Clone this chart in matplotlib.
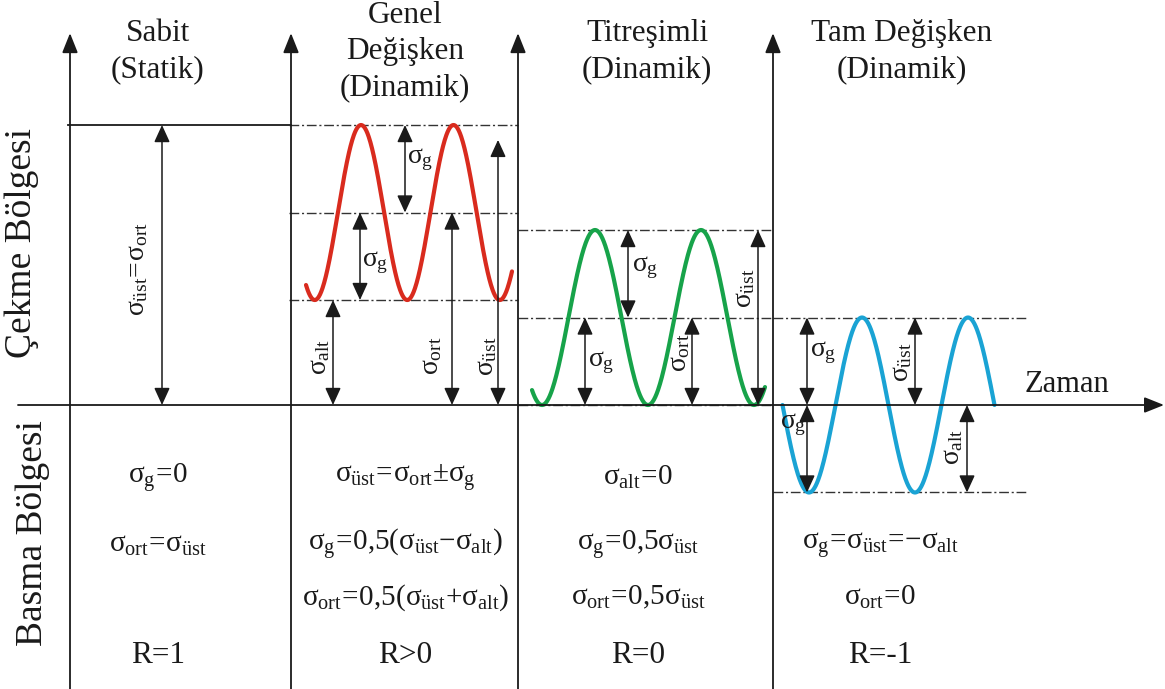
import numpy as np
import matplotlib.pyplot as plt

plt.rcParams['font.family'] = ['Liberation Serif', 'DejaVu Serif']
plt.rcParams['mathtext.fontset'] = 'custom'
plt.rcParams['mathtext.rm'] = 'Liberation Serif'
plt.rcParams['mathtext.it'] = 'Liberation Serif'
plt.rcParams['mathtext.bf'] = 'Liberation Serif:bold'

ink = '#1a1a1a'

# load cases: titles and where each panel starts on the time axis
titles = ['Sabit\n(Statik)', 'Genel\nDeğişken\n(Dinamik)',
          'Titreşimli\n(Dinamik)', 'Tam Değişken\n(Dinamik)']
panel_x = [70, 291, 518, 773]
title_x = [158, 405, 647, 902]

# stress levels of each case (upper / lower)
sabit_ust = 3.2
genel_ust, genel_alt = 3.2, 1.2
titr_ust, titr_alt = 2.0, 0.0
tam_ust, tam_alt = 1.0, -1.0

# wave timing: [first peak, period, start, end]
genel_time = [361, 92.5, 306, 512]
titr_time = [595, 106, 532, 765]
tam_time = [862, 106, 782.5, 994.5]

# relations written under each panel (one entry per row)
rows_y = [-0.83, -1.6, -2.2, -2.86]
col_x = [158, 405, 638, 880]
relations = [
    [r'$\sigma_{\mathrm{g}}\!=\!0$', r'$\sigma_{\mathrm{ort}}\!=\!\sigma_{\mathrm{üst}}$', '', 'R=1'],
    [r'$\sigma_{\mathrm{üst}}\!=\!\sigma_{\mathrm{ort}}{\pm}\sigma_{\mathrm{g}}$',
     r'$\sigma_{\mathrm{g}}\!=\!0{,}5(\sigma_{\mathrm{üst}}{-}\sigma_{\mathrm{alt}})$',
     r'$\sigma_{\mathrm{ort}}\!=\!0{,}5(\sigma_{\mathrm{üst}}{+}\sigma_{\mathrm{alt}})$', 'R>0'],
    [r'$\sigma_{\mathrm{alt}}\!=\!0$', r'$\sigma_{\mathrm{g}}\!=\!0{,}5\sigma_{\mathrm{üst}}$',
     r'$\sigma_{\mathrm{ort}}\!=\!0{,}5\sigma_{\mathrm{üst}}$', 'R=0'],
    ['', r'$\sigma_{\mathrm{g}}\!=\!\sigma_{\mathrm{üst}}\!=\!{-}\sigma_{\mathrm{alt}}$',
     r'$\sigma_{\mathrm{ort}}\!=\!0$', 'R=-1'],
]


def wave(ust, alt, timing):
    t_peak, period, t0, t1 = timing
    t = np.linspace(t0, t1, 500)
    mid = (ust + alt) / 2
    amp = (ust - alt) / 2
    return t, mid + amp * np.cos(2 * np.pi * (t - t_peak) / period)


def dim_arrow(x, y0, y1):
    ax.annotate('', xy=(x, y1), xytext=(x, y0),
                arrowprops=dict(arrowstyle='<|-|>,head_length=0.7,head_width=0.32',
                                mutation_scale=15, lw=1.1, color=ink,
                                shrinkA=0, shrinkB=0))


def level(x0, x1, y):
    ax.plot([x0, x1], [y, y], color='#333333', lw=1.0, ls=(0, (7, 2, 1.5, 2)))


def sig(sub):
    return r'$\sigma_{\mathrm{' + sub + '}}$'


fig = plt.figure(figsize=(11.65, 6.89), dpi=100)
ax = fig.add_axes([0, 0, 1, 1])
ax.set_xlim(0, 1165)
ax.set_ylim(-3.246, 4.629)
ax.axis('off')

# panel borders with arrow tips and the time axis
for x in panel_x:
    ax.annotate('', xy=(x, 4.25), xytext=(x, -3.3),
                arrowprops=dict(arrowstyle='-|>,head_length=0.75,head_width=0.3',
                                mutation_scale=16, lw=1.3, color=ink,
                                shrinkA=0, shrinkB=0))
ax.annotate('', xy=(1164, 0), xytext=(18, 0),
            arrowprops=dict(arrowstyle='-|>,head_length=0.75,head_width=0.3',
                            mutation_scale=16, lw=1.3, color=ink,
                            shrinkA=0, shrinkB=0))
ax.text(1025, 0.15, 'Zaman', fontsize=22, color=ink, ha='left', va='baseline')

for x, title in zip(title_x, titles):
    ax.text(x, 4.04, title, fontsize=22.5, color=ink, ha='center', va='center',
            multialignment='center', linespacing=1.32)

ax.text(22, 1.85, 'Çekme Bölgesi', fontsize=27, color=ink, rotation=90,
        ha='center', va='center')
ax.text(33, -1.46, 'Basma Bölgesi', fontsize=27, color=ink, rotation=90,
        ha='center', va='center')

# static load
ax.plot([68, 291], [sabit_ust, sabit_ust], color=ink, lw=1.3)
dim_arrow(162, 0, sabit_ust)
ax.text(138, 1.55, r'$\sigma_{\mathrm{üst}}\!=\!\sigma_{\mathrm{ort}}$', fontsize=20,
        color=ink, rotation=90, ha='center', va='center')

# general fluctuating load
genel_mid = (genel_ust + genel_alt) / 2
for y in [genel_ust, genel_mid, genel_alt]:
    level(289, 518, y)
t, s = wave(genel_ust, genel_alt, genel_time)
ax.plot(t, s, color='#d92b1e', lw=3, solid_capstyle='round')
dim_arrow(405, genel_ust, genel_mid)
dim_arrow(360, genel_mid, genel_alt)
dim_arrow(333, genel_alt, 0)
dim_arrow(452, genel_mid, 0)
dim_arrow(498, 0, genel_ust - 0.17)
ax.text(407, 2.8, sig('g'), fontsize=20, color=ink, ha='left', va='center')
ax.text(362, 1.63, sig('g'), fontsize=20, color=ink, ha='left', va='center')
ax.text(320, 0.55, sig('alt'), fontsize=20, color=ink, rotation=90, ha='center', va='center')
ax.text(432, 0.56, sig('ort'), fontsize=20, color=ink, rotation=90, ha='center', va='center')
ax.text(487, 0.56, sig('üst'), fontsize=20, color=ink, rotation=90, ha='center', va='center')

# pulsating load
titr_mid = (titr_ust + titr_alt) / 2
for y in [titr_ust, titr_mid, titr_alt]:
    level(518, 773, y)
t, s = wave(titr_ust, titr_alt, titr_time)
ax.plot(t, s, color='#17a34a', lw=3, solid_capstyle='round')
dim_arrow(628, titr_ust, titr_mid)
dim_arrow(585, titr_mid, titr_alt)
dim_arrow(692, titr_mid, 0)
dim_arrow(758, titr_ust, 0)
ax.text(632, 1.57, sig('g'), fontsize=20, color=ink, ha='left', va='center')
ax.text(588, 0.48, sig('g'), fontsize=20, color=ink, ha='left', va='center')
ax.text(680, 0.6, sig('ort'), fontsize=20, color=ink, rotation=90, ha='center', va='center')
ax.text(745, 1.34, sig('üst'), fontsize=20, color=ink, rotation=90, ha='center', va='center')

# fully reversed load
for y in [tam_ust, tam_alt]:
    level(773, 1027, y)
t, s = wave(tam_ust, tam_alt, tam_time)
ax.plot(t, s, color='#1aa3d4', lw=3, solid_capstyle='round')
dim_arrow(807, tam_ust, 0)
dim_arrow(807, 0, tam_alt)
dim_arrow(915, tam_ust, 0)
dim_arrow(967, 0, tam_alt)
ax.text(810, 0.6, sig('g'), fontsize=20, color=ink, ha='left', va='center')
ax.text(780, -0.23, sig('g'), fontsize=20, color=ink, ha='left', va='center')
ax.text(902, 0.49, sig('üst'), fontsize=20, color=ink, rotation=90, ha='center', va='center')
ax.text(953, -0.48, sig('alt'), fontsize=20, color=ink, rotation=90, ha='center', va='center')

# relations under each panel
for x, col in zip(col_x, relations):
    for y, txt in zip(rows_y, col):
        if txt:
            size = 22.5 if txt.startswith('R') else 21
            ax.text(x, y, txt, fontsize=size, color=ink, ha='center', va='center')

fig.savefig('out.png', dpi=100)
